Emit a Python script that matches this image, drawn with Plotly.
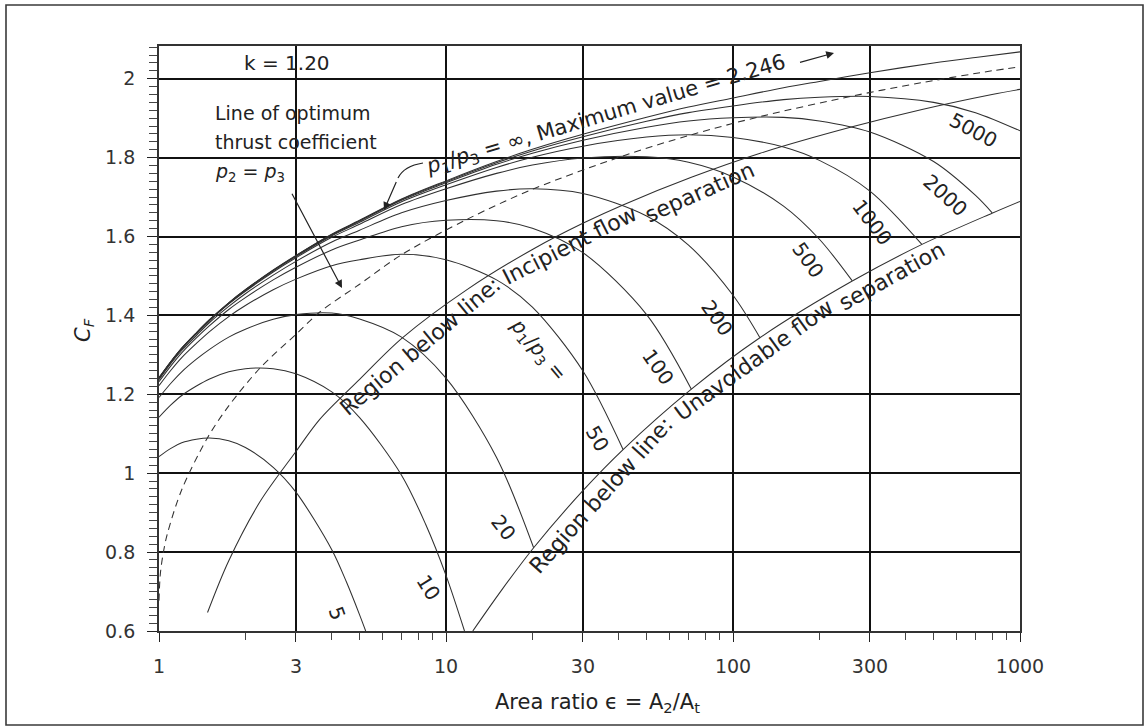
import plotly.graph_objects as go

# Thrust coefficient C_F versus nozzle area ratio for k = 1.20,
# one curve per chamber-to-ambient pressure ratio p1/p3.

EPS_5 = [1, 1.1, 1.2, 1.35, 1.5, 1.75, 2, 2.5, 3, 4, 4.5, 5, 5.25]
CF_5 = [1.042, 1.063, 1.077, 1.086, 1.089, 1.082, 1.065, 1.015, 0.952, 0.806, 0.724, 0.641, 0.600]

EPS_10 = [1, 1.1, 1.2, 1.35, 1.5, 1.75, 2, 2.5, 3, 4, 5, 7, 8.5, 10, 11.6]
CF_10 = [1.142, 1.173, 1.197, 1.221, 1.239, 1.257, 1.265, 1.265, 1.252, 1.206, 1.141, 0.995, 0.870, 0.741, 0.600]

EPS_20 = [1, 1.1, 1.2, 1.35, 1.5, 1.75, 2, 2.5, 3, 4, 5, 7, 10, 15, 20.2]
CF_20 = [1.192, 1.228, 1.257, 1.289, 1.314, 1.345, 1.365, 1.390, 1.402, 1.406, 1.391, 1.345, 1.241, 1.040, 0.811]

EPS_50 = [1, 1.1, 1.2, 1.35, 1.5, 1.75, 2, 2.5, 3, 4, 5, 7, 10, 15, 20, 30, 41.4]
CF_50 = [1.222, 1.261, 1.293, 1.329, 1.359, 1.397, 1.425, 1.465, 1.492, 1.526, 1.541, 1.555, 1.541, 1.490, 1.421, 1.259, 1.060]

EPS_100 = [1, 1.1, 1.2, 1.35, 1.5, 1.75, 2, 2.5, 3, 4, 5, 7, 10, 15, 20, 30, 50, 71.6]
CF_100 = [1.232, 1.272, 1.305, 1.343, 1.374, 1.415, 1.445, 1.490, 1.522, 1.566, 1.591, 1.625, 1.641, 1.640, 1.621, 1.559, 1.402, 1.213]

EPS_200 = [1, 1.1, 1.2, 1.35, 1.5, 1.75, 2, 2.5, 3, 4, 5, 7, 10, 15, 20, 30, 50, 70, 100, 124]
CF_200 = [1.237, 1.278, 1.311, 1.349, 1.382, 1.423, 1.455, 1.502, 1.537, 1.586, 1.616, 1.660, 1.691, 1.715, 1.721, 1.709, 1.652, 1.578, 1.451, 1.344]

EPS_500 = [1, 1.1, 1.2, 1.35, 1.5, 1.75, 2, 2.5, 3, 4, 5, 7, 10, 15, 20, 30, 50, 70, 100, 150, 200, 260]
CF_500 = [1.240, 1.281, 1.315, 1.353, 1.386, 1.429, 1.461, 1.510, 1.546, 1.598, 1.631, 1.681, 1.721, 1.760, 1.781, 1.799, 1.802, 1.788, 1.751, 1.677, 1.593, 1.488]

EPS_1000 = [1, 1.1, 1.2, 1.35, 1.5, 1.75, 2, 2.5, 3, 4, 5, 7, 10, 15, 20, 30, 50, 70, 100, 150, 200, 300, 455]
CF_1000 = [1.241, 1.282, 1.316, 1.355, 1.388, 1.430, 1.463, 1.513, 1.549, 1.602, 1.636, 1.688, 1.731, 1.775, 1.801, 1.829, 1.852, 1.858, 1.851, 1.827, 1.793, 1.715, 1.580]

EPS_2000 = [1, 1.1, 1.2, 1.35, 1.5, 1.75, 2, 2.5, 3, 4, 5, 7, 10, 15, 20, 30, 50, 70, 100, 150, 200, 300, 500, 700, 800]
CF_2000 = [1.241, 1.282, 1.316, 1.355, 1.388, 1.431, 1.464, 1.514, 1.551, 1.604, 1.639, 1.692, 1.736, 1.783, 1.811, 1.844, 1.877, 1.893, 1.901, 1.902, 1.893, 1.865, 1.790, 1.704, 1.660]

EPS_FULL = [1, 1.1, 1.2, 1.35, 1.5, 1.75, 2, 2.5, 3, 4, 5, 7, 10, 15, 20, 30, 50, 70, 100, 150, 200, 300, 500, 700, 1000]
CF_5000 = [1.242, 1.283, 1.317, 1.356, 1.389, 1.432, 1.465, 1.514, 1.551, 1.605, 1.640, 1.694, 1.739, 1.787, 1.817, 1.853, 1.892, 1.914, 1.931, 1.947, 1.953, 1.955, 1.940, 1.914, 1.868]
CF_INF = [1.242, 1.283, 1.317, 1.356, 1.389, 1.432, 1.465, 1.515, 1.552, 1.606, 1.641, 1.695, 1.741, 1.790, 1.821, 1.859, 1.902, 1.928, 1.951, 1.977, 1.993, 2.015, 2.040, 2.054, 2.068]

# Optimum expansion (p2 = p3)
EPS_OPT = [1, 1.01, 1.032, 1.068, 1.2, 1.476, 1.747, 2.259, 3, 3.625, 5, 7.046, 11.87, 20.22, 41.36, 71.6, 124.4, 260.3, 455.6, 799, 1000]
CF_OPT = [0.677, 0.742, 0.793, 0.845, 0.958, 1.090, 1.170, 1.268, 1.352, 1.408, 1.479, 1.555, 1.644, 1.721, 1.804, 1.858, 1.904, 1.956, 1.990, 2.020, 2.030]

# Separation boundaries
EPS_INCIP = [1.476, 1.747, 2.259, 3, 3.625, 5, 7.046, 11.87, 20.22, 30.1, 41.36, 71.6, 124.4, 260.3, 455.6, 799, 1000]
CF_INCIP = [0.647, 0.777, 0.930, 1.055, 1.136, 1.238, 1.343, 1.466, 1.569, 1.634, 1.680, 1.750, 1.811, 1.878, 1.922, 1.960, 1.973]

EPS_UNAV = [12.4, 15.6, 20.2, 30.1, 41.4, 71.6, 124.4, 260.3, 455.6, 799, 1000]
CF_UNAV = [0.600, 0.703, 0.811, 0.957, 1.060, 1.213, 1.344, 1.487, 1.580, 1.659, 1.689]

X_TICKS = [1, 3, 10, 30, 100, 300, 1000]
X_TICK_TEXT = ["1", "3", "10", "30", "100", "300", "1000"]
Y_TICKS = [0.6, 0.8, 1.0, 1.2, 1.4, 1.6, 1.8, 2.0]
Y_TICK_TEXT = ["0.6", "0.8", "1", "1.2", "1.4", "1.6", "1.8", "2"]

FONT = "DejaVu Sans"
INK = "#222222"

# plot area in pixels
L, R, T, B = 159, 1020, 46, 631
W, H = 1145, 727


def px(x):
    return (x - L) / (R - L)


def py(y):
    return (B - y) / (B - T)


fig = go.Figure()

curves = [
    (EPS_5, CF_5), (EPS_10, CF_10), (EPS_20, CF_20), (EPS_50, CF_50),
    (EPS_100, CF_100), (EPS_200, CF_200), (EPS_500, CF_500),
    (EPS_1000, CF_1000), (EPS_2000, CF_2000), (EPS_FULL, CF_5000),
    (EPS_FULL, CF_INF), (EPS_INCIP, CF_INCIP), (EPS_UNAV, CF_UNAV),
]
for xs, ys in curves:
    fig.add_trace(go.Scatter(
        x=xs, y=ys, mode="lines",
        line=dict(color="#303030", width=1.05, shape="spline", smoothing=0.9),
        hoverinfo="skip", showlegend=False,
    ))

fig.add_trace(go.Scatter(
    x=EPS_OPT, y=CF_OPT, mode="lines",
    line=dict(color="#303030", width=1.05, dash="7px,5px", shape="spline", smoothing=0.9),
    hoverinfo="skip", showlegend=False,
))

minor_x = [m * d for d in (1, 10, 100) for m in (2, 4, 5, 6, 7, 8, 9)]
minor_y = [round(0.6 + 0.02 * i, 2) for i in range(1, 75) if i % 10]

fig.update_xaxes(
    type="log", range=[0, 3],
    tickvals=X_TICKS, ticktext=X_TICK_TEXT,
    ticks="outside", ticklen=9, tickwidth=1.3, tickcolor=INK,
    showgrid=True, gridcolor="#111111", gridwidth=1.5,
    showline=True, linecolor="#333333", linewidth=1.8, mirror=True,
    zeroline=False, ticklabelstandoff=8,
    tickfont=dict(family=FONT, size=19, color="#333333"),
    minor=dict(tickvals=minor_x, ticks="outside", ticklen=7, tickwidth=1.2,
               tickcolor="#444444", showgrid=False),
)
fig.update_yaxes(
    range=[0.6, 0.6 + (B - T) / 394.5],
    tickvals=Y_TICKS, ticktext=Y_TICK_TEXT,
    ticks="outside", ticklen=10, tickwidth=1.3, tickcolor=INK,
    showgrid=True, gridcolor="#111111", gridwidth=1.5,
    showline=True, linecolor="#333333", linewidth=1.8, mirror=True,
    zeroline=False, ticklabelstandoff=8,
    tickfont=dict(family=FONT, size=19, color="#333333"),
    minor=dict(tickvals=minor_y, ticks="outside", ticklen=8, tickwidth=1.1,
               tickcolor="#444444", showgrid=False),
)

annotations = []


def label(text, x, y, angle=0, size=20, xanchor="center"):
    annotations.append(dict(
        text=text, x=px(x), y=py(y), xref="paper", yref="paper",
        xanchor=xanchor, yanchor="middle", textangle=angle, showarrow=False,
        font=dict(family=FONT, size=size, color=INK),
    ))


# pressure-ratio labels on the curves
label("5", 337, 613, 70)
label("10", 428, 587, 58)
label("20", 503, 527, 52)
label("50", 597, 438, 60)
label("<i>p</i><sub>1</sub>/<i>p</i><sub>3</sub> =", 538, 350, 50)
label("100", 658, 367, 55)
label("200", 717, 318, 55)
label("500", 808, 260, 55)
label("1000", 872, 222, 53)
label("2000", 945, 195, 42)
label("5000", 973, 130, 28)

# separation boundary captions, following the bend of each line
label("Region below line:", 420, 347, -40, 22)
label("Incipient flow", 569, 245, -27, 22)
label("separation", 699, 192, -24, 22)
label("Region below line:", 601, 496, -48, 22)
label("Unavoidable flow", 753, 360, -36, 22)
label("separation", 891, 276, -29, 22)

label("<i>p</i><sub>1</sub>/<i>p</i><sub>3</sub> = ∞, Maximum value = 2.246", 606, 115, -16.5, 21)

label("k = 1.20", 287, 63, 0, 20)
label("Line of optimum", 213, 113, 0, 19, "left")
label("thrust coefficient", 213, 142, 0, 19, "left")
label("<i>p</i><sub>2</sub> = <i>p</i><sub>3</sub>", 213, 172, 0, 19, "left")

# axis titles
label("Area ratio ϵ = A<sub>2</sub>/A<sub>t</sub>", 493, 703, 0, 21, "left")
label("<i>C<sub>F</sub></i>", 84, 330, -90, 21)


def arrow(head, tail):
    annotations.append(dict(
        x=px(head[0]), y=py(head[1]), xref="paper", yref="paper",
        ax=tail[0] - head[0], ay=tail[1] - head[1], text=" ",
        showarrow=True, arrowhead=2, arrowsize=1.3, arrowwidth=1.2,
        arrowcolor=INK, font=dict(size=4),
    ))


arrow((342, 288), (290, 190))
arrow((384, 210), (398, 178))
arrow((834, 53), (798, 63))

shapes = [
    # bent leader from the infinity label
    dict(type="path", xref="paper", yref="paper",
         path=f"M {px(423)},{py(163)} Q {px(404)},{py(166)} {px(398)},{py(178)}",
         line=dict(color=INK, width=1.2)),
    # outer frame
    dict(type="rect", xref="paper", yref="paper",
         x0=px(6), x1=px(1143), y0=py(725), y1=py(5),
         line=dict(color="#3a3a3a", width=1.6), layer="below"),
]

fig.update_layout(
    width=W, height=H,
    margin=dict(l=L, r=W - R, t=T, b=H - B),
    paper_bgcolor="white", plot_bgcolor="white",
    font=dict(family=FONT, color=INK),
    annotations=annotations, shapes=shapes,
    showlegend=False,
)

fig.write_html("out.html")
